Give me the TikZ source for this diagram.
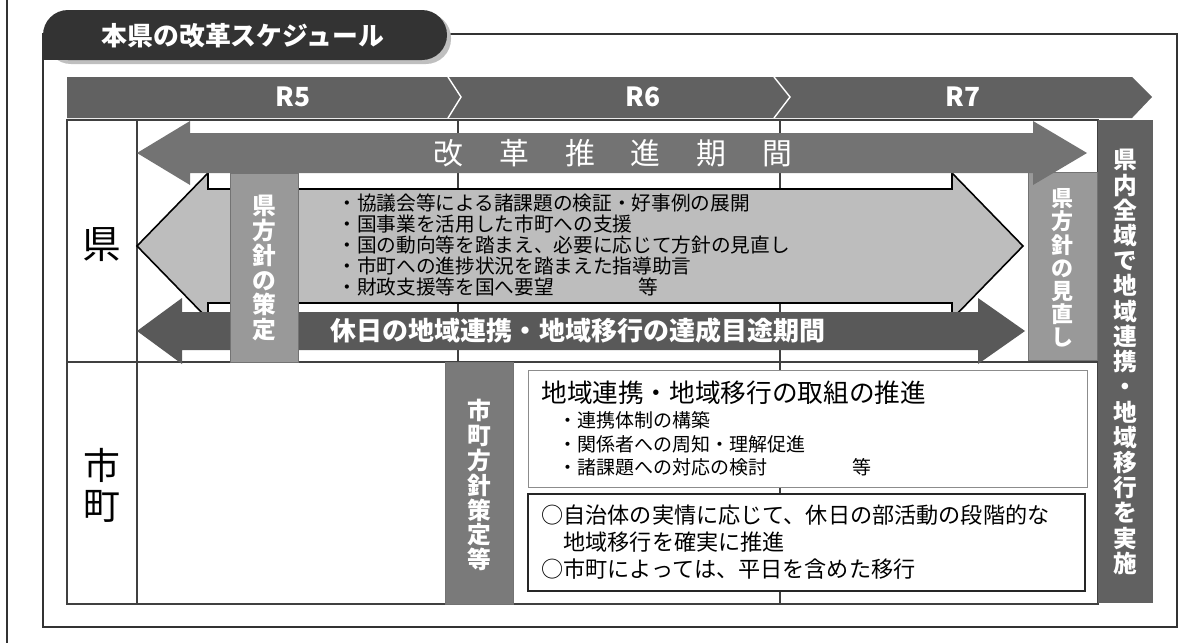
\documentclass[tikz,border=0pt]{standalone}
\usepackage{fontspec}
\setmainfont{Noto Sans CJK JP}

\begin{document}
\begin{tikzpicture}[x=0.02cm,y=-0.02cm,
    gridline/.style={black!75,line width=0.6pt},
    tatebar/.style={draw=black!55,line width=0.4pt},
    tatetext/.style={text=white,align=center,inner sep=0pt,
        font=\fontsize{13.5}{14.2}\selectfont\bfseries},
    listtext/.style={align=left,anchor=west,inner sep=0pt},
    yeartext/.style={text=white,font=\fontsize{15}{16}\selectfont\bfseries}]

\useasboundingbox (0,0) rectangle (1189,643);

% Frame & title tab
\draw[black!80,line width=0.6pt] (7,0) -- (7,643);
\draw[black!80,line width=0.6pt] (43,34) rectangle (1177,627);
\fill[black!25,rounded corners=0.5cm] (46,13) rectangle (451,64);
\fill[black!80,rounded corners=0.5cm] (43,10) rectangle (447,60);
\fill[black!80] (43,35) rectangle (80,60);
\node[  text=white,
        font=\fontsize{14.7}{16}\selectfont\bfseries
    ] (title) at (243,36) {本県の改革スケジュール};

% Grid
\draw[gridline] (458,120) -- (458,604) (780,120) -- (780,604);
\draw[gridline] (67,120) rectangle (1098,604);
\draw[gridline] (137,120) -- (137,604) (67,362) -- (1098,362);

% Year header
\fill[black!62] (67,77) -- (1132,77) -- (1152,97) -- (1132,118) -- (67,118) -- cycle;
\draw[white,line width=0.8pt] (448,77) -- (461,97) -- (448,118)
    (774,77) -- (790,97) -- (774,118);
\node[yeartext] (r5) at (293,97) {R5};
\node[yeartext] (r6) at (643,97) {R6};
\node[yeartext] (r7) at (963,97) {R7};

% Row labels
\node[font=\fontsize{22}{24}\selectfont] (ken) at (102,245) {県};
\node[  align=center,
        font=\fontsize{21}{22.7}\selectfont
    ] (shicho) at (102,485) {市\\町};

% Arrows of the prefecture row
\draw[fill=black!26,line width=0.9pt] (137,246) -- (208,173) -- (208,189) -- (952,189)
    -- (952,173) -- (1023,246) -- (952,319) -- (952,303) -- (208,303) -- (208,319) -- cycle;
\node[  listtext,
        font=\fontsize{11.2}{11.9}\selectfont
    ] (kenlist) at (337,245) {・協議会等による諸課題の検証・好事例の展開\\
    ・国事業を活用した市町への支援\\
    ・国の動向等を踏まえ、必要に応じて方針の見直し\\
    ・市町への進捗状況を踏まえた指導助言\\
    ・財政支援等を国へ要望\hspace{4.3em}等};
\fill[black!65] (137,331) -- (182,298) -- (182,312) -- (978,312) -- (978,298)
    -- (1025,331) -- (978,364) -- (978,350) -- (182,350) -- (182,364) -- cycle;
\node[  text=white,
        font=\fontsize{14.8}{16}\selectfont\bfseries
    ] (kyujitsu) at (578,331) {休日の地域連携・地域移行の達成目途期間};

% Policy bars
\fill[black!40,tatebar] (230,173) rectangle (298,362);
\node[tatetext] (sakutei) at (264,268) {県\\方\\針\\の\\策\\定};
\fill[black!40,tatebar] (1028,172) rectangle (1097,360);
\node[  tatetext,
        font=\fontsize{12.5}{13.2}\selectfont\bfseries
    ] (minaoshi) at (1062,268) {県\\方\\針\\の\\見\\直\\し};
\fill[black!52,tatebar] (445,362) rectangle (513,604);
\node[tatetext] (shichohoshin) at (479,485) {市\\町\\方\\針\\策\\定\\等};
\fill[black!62] (1098,120) rectangle (1153,603);
\node[  tatetext,
        font=\fontsize{13.5}{14.35}\selectfont\bfseries
    ] (zeniki) at (1125,362)
    {県\\内\\全\\域\\で\\地\\域\\連\\携\\・\\地\\域\\移\\行\\を\\実\\施};

% Reform period arrow
\fill[black!55] (137,153) -- (190,121) -- (190,133) -- (1033,133) -- (1033,121)
    -- (1087,153) -- (1033,185) -- (1033,173) -- (190,173) -- (190,185) -- cycle;
\node[  text=white,
        font=\fontsize{17}{18}\selectfont
    ] (kaikaku) at (613,153)
    {改\hspace{1.2em}革\hspace{1.2em}推\hspace{1.2em}進\hspace{1.2em}期\hspace{1.2em}間};

% Municipality boxes
\draw[black!45,line width=0.5pt,fill=white] (528,370) rectangle (1087,487);
\node[  listtext,
        font=\fontsize{14.6}{16}\selectfont
    ] (torikumi) at (541,393) {地域連携・地域移行の取組の推進};
\node[  listtext,
        font=\fontsize{10.8}{13.3}\selectfont
    ] (torikumilist) at (558,444) {・連携体制の構築\\
    ・関係者への周知・理解促進\\
    ・諸課題への対応の検討\hspace{4.5em}等};
\draw[black!85,line width=0.6pt,fill=white] (528,494) rectangle (1085,591);
\node[  listtext,
        font=\fontsize{12.6}{15.3}\selectfont
    ] (jichitai) at (541,542) {○自治体の実情に応じて、休日の部活動の段階的な\\
    \hspace{1em}地域移行を確実に推進\\
    ○市町によっては、平日を含めた移行};

\end{tikzpicture}
\end{document}
